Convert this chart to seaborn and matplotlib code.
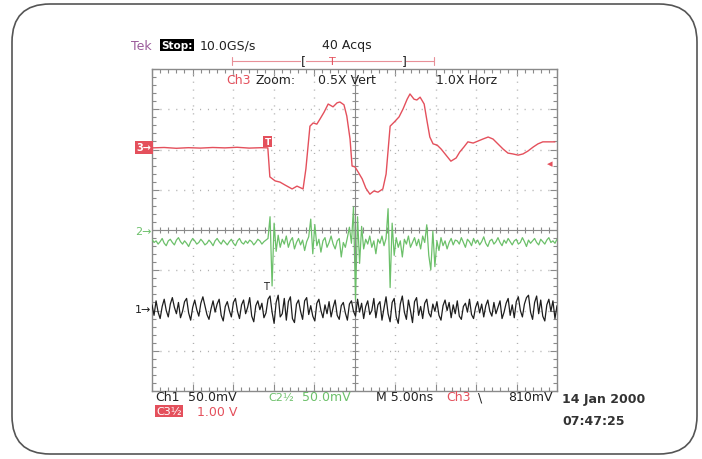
import numpy as np
import pandas as pd
import matplotlib.pyplot as plt
import seaborn as sns
from matplotlib.patches import FancyBboxPatch
from matplotlib.transforms import IdentityTransform
from matplotlib.ticker import MultipleLocator

sns.set_theme(style="white")
plt.rcParams["font.family"] = ["DejaVu Sans"]

# screen settings (M 5.00ns/div, 10 divisions, 8 vertical divisions)
NS_PER_DIV = 5.0
CH1_MV_PER_DIV = 50.0
CH2_MV_PER_DIV = 50.0
CH3_V_PER_DIV = 2.0   # 1.00 V/div shown at 0.5X vertical zoom
CH1_POS, CH2_POS, CH3_POS = 2.04, 3.97, 6.06   # ground markers, in divisions

# Ch3 (red) - time in ns, volts
ch3_t = [0, 1.5, 3, 4.5, 6, 7.5, 9, 10.5, 12, 13.5, 14.3,
         14.55, 15.2, 15.8, 16.4, 17.3, 17.9, 18.65, 19.0, 19.5, 19.9,
         20.35, 20.75, 21.25, 21.75, 22.35, 22.85, 23.2, 23.7, 24.05, 24.45,
         24.7, 25.05, 25.45, 25.95, 26.4, 26.9, 27.4, 27.9, 28.5, 28.9,
         29.4, 29.9, 30.5, 31.0, 31.5, 31.85, 32.35, 32.7, 33.1, 33.6,
         33.95, 34.3, 34.7, 35.2, 35.7, 36.3, 36.9, 37.55, 38.0, 38.5,
         39.0, 39.65, 40.25, 40.85, 41.5, 42.1, 42.7, 43.35, 43.95, 44.55,
         45.2, 45.8, 46.4, 47.05, 47.65, 48.25, 48.9, 49.75]
ch3_v = [-0.04, -0.02, -0.06, -0.03, -0.05, -0.02, -0.04, -0.01, -0.05, -0.03, -0.04,
         -1.48, -1.68, -1.74, -1.88, -2.08, -1.94, -2.08, -1.08, 1.04, 1.20,
         1.14, 1.40, 1.74, 2.14, 2.00, 2.20, 2.24, 2.10, 1.54, 0.40,
         -0.94, -0.98, -1.24, -1.58, -2.04, -2.34, -2.18, -2.24, -2.08, -1.34,
         1.04, 1.24, 1.50, 1.90, 2.38, 2.64, 2.38, 2.34, 2.48, 2.14,
         1.30, 0.50, 0.16, 0.10, -0.10, -0.40, -0.70, -0.54, -0.24, 0.0,
         0.26, 0.20, 0.30, 0.40, 0.50, 0.40, 0.16, -0.10, -0.30, -0.34,
         -0.40, -0.34, -0.20, 0.0, 0.16, 0.26, 0.26, 0.26]

# Ch2 (green) - mV, 200 samples across the screen
ch2_mv = [-10, -14, -12, -16, -13, -9, -15, -18, -12, -10,
          -14, -17, -11, -8, -13, -16, -12, -15, -19, -13,
          -9, -12, -16, -14, -10, -13, -17, -15, -11, -14,
          -18, -12, -9, -13, -16, -11, -14, -17, -13, -10,
          -15, -18, -12, -9, -14, -16, -12, -15, -11, -13,
          -17, -14, -10, -12, -16, -13, -11, -9,
          18, -68, 10, -25, -5, -20,
          -10, -16, -6, -20, -12, -8, -22, -14, -9, -17, -11, -24, -13, -7,
          15, -28, 8, -18, -10, -26, -12, -8, -20, -14,
          -6, -16, -22, -12, -9, -32, -14, -20, -8, 5,
          -15, 30, -85, 18, -40, 6, -22, -10, -16, -6,
          -20, -12, -28, -10, -15, -6, -18, -9, 28, -70,
          10, -30, -8, -20, -12, -32, -10, -16, -6, -20,
          -14, -8, -18, -10, -22, -6, -14, 8, -30, -48,
          0, -44, -12, -24, -8, -18, -12, -22, -14, -9,
          -17, -11,
          -12, -16, -8, -14, -20, -10, -13, -18, -9, -15,
          -11, -17, -13, -7, -15, -19, -12, -10, -16, -13,
          -8, -14, -18, -11, -15, -9, -13, -17, -12, -10,
          -16, -14, -8, -13, -19, -11, -15, -12, -9, -14,
          -17, -10, -13, -16, -11, -8, -14, -12, -15, -10]

# Ch1 (black) - mV, 200 samples across the screen
ch1_mv = [5, -8, 10, -4, -12, 3, 12, -2, -10, 6, 14, 2, -6, 8, -11, -3, 9, 13, -5, -14,
          2, 11, -1, -9, 7, 15, 4, -7, -13, 0, 10, -4, 6, 12, -8, -15, 3, 9, -2, -10,
          8, 13, -3, -12, 5, 11, -6, 2, 14, -9, -16, 4, 10, -1, 7, -11, -5, 12, 16, -4,
          -18, 8, 17, -10, -6, 13, -14, 9, 15, -12, -17, 6, 11, -3, -13, 10, 14, -7, 4, -9,
          -15, 7, 12, -2, -11, 5, -6, 9, -10, 2, 11, -8, -13, 4, 8, -5, -14, 6, 10, -3,
          -9, 12, -4, 7, -12, 3, 10, -7, -2, 13, -11, 5, 9, -14, 1, 15, -6, -16, 8, 13,
          -10, -18, 6, 16, -4, -13, 11, -2, -17, 9, 14, -8, 3, -12, 7, 12, -5, -10, 6, -3,
          9, -8, -14, 4, 11, -2, 8, -11, 5, -6, 10, -9, -13, 3, 7, -4, 12, -7, -12, 2,
          9, -5, 6, -10, 4, 11, -3, -9, 8, -6, 2, 10, -12, -4, 7, 13, -8, 5, -11, 9,
          15, -2, -10, 6, 14, 17, -4, -13, 8, 16, -6, 11, -9, -15, 5, 12, -3, 10, -12, 4]

t_fast = np.linspace(0, 10 * NS_PER_DIV, len(ch1_mv))

df3 = pd.DataFrame({"t": ch3_t, "y": CH3_POS + np.array(ch3_v) / CH3_V_PER_DIV})
df2 = pd.DataFrame({"t": t_fast, "y": CH2_POS + np.array(ch2_mv) / CH2_MV_PER_DIV})
df1 = pd.DataFrame({"t": t_fast, "y": CH1_POS + np.array(ch1_mv) / CH1_MV_PER_DIV})

RED = "#e4505c"
GREEN = "#6cc06a"
BLACK = "#1e1e1e"
GRID = "#b0b0b0"

fig = plt.figure(figsize=(7.02, 4.60), dpi=100)
W, H = 702, 460
def fx(px): return px / W
def fy(py): return 1 - py / H

# rounded outer frame
fig.patches.append(FancyBboxPatch((12, 5), 685, 450, boxstyle="round,pad=0,rounding_size=38",
                                  transform=IdentityTransform(), facecolor="none",
                                  edgecolor="#555555", linewidth=1.2, zorder=-1))

ax = fig.add_axes([fx(152), fy(392), fx(557) - fx(152), (392 - 70) / H])
ax.set_facecolor("white")
ax.set_xlim(0, 10 * NS_PER_DIV)
ax.set_ylim(0, 8)

# graticule
for i in range(1, 10):
    if i != 5:
        ax.axvline(i * NS_PER_DIV, color=GRID, lw=1.0, ls=(0, (0.8, 4.9)), zorder=1)
for j in range(1, 8):
    if j != 4:
        ax.axhline(j, color=GRID, lw=1.0, ls=(0, (0.8, 4.9)), zorder=1)
ax.axvline(5 * NS_PER_DIV, color="#8a8a8a", lw=0.8, zorder=1)
ax.axhline(4, color="#8a8a8a", lw=0.8, zorder=1)
ax.plot(np.arange(0, 50.1, 1), np.full(51, 4.0), ls="none", marker="|", ms=4, mew=0.8, color="#8a8a8a", zorder=1)
ax.plot(np.full(41, 25.0), np.arange(0, 8.01, 0.2), ls="none", marker="_", ms=4, mew=0.8, color="#8a8a8a", zorder=1)

ax.xaxis.set_major_locator(MultipleLocator(5))
ax.xaxis.set_minor_locator(MultipleLocator(1))
ax.yaxis.set_major_locator(MultipleLocator(1))
ax.yaxis.set_minor_locator(MultipleLocator(0.2))
ax.tick_params(which="both", direction="in", top=True, right=True, bottom=True, left=True,
               labelbottom=False, labelleft=False, color="#8a8a8a", width=0.8)
ax.tick_params(which="major", length=5)
ax.tick_params(which="minor", length=3)
for s in ax.spines.values():
    s.set_color("#8a8a8a")
    s.set_linewidth(1.0)

# traces
sns.lineplot(data=df3, x="t", y="y", ax=ax, color=RED, lw=1.0, estimator=None, zorder=3)
sns.lineplot(data=df2, x="t", y="y", ax=ax, color=GREEN, lw=0.9, estimator=None, zorder=3)
sns.lineplot(data=df1, x="t", y="y", ax=ax, color=BLACK, lw=0.9, estimator=None, zorder=4)
ax.set_xlabel("")
ax.set_ylabel("")

# channel markers
ytr = ax.get_yaxis_transform()
ax.text(-0.002, CH3_POS, "3\u2192", transform=ytr, ha="right", va="center", fontsize=7,
        color="white", fontweight="bold",
        bbox=dict(boxstyle="square,pad=0.15", fc=RED, ec="none"), clip_on=False)
ax.text(-0.002, CH2_POS, "2\u2192", transform=ytr, ha="right", va="center", fontsize=8,
        color=GREEN, clip_on=False)
ax.text(-0.002, CH1_POS, "1\u2192", transform=ytr, ha="right", va="center", fontsize=8,
        color=BLACK, clip_on=False)
ax.text(0.99, CH3_POS - 0.4, "\u25c2", transform=ytr, ha="right", va="center", fontsize=8,
        color=RED, zorder=5)
ax.text(14.3, 6.2, "T", ha="center", va="center", fontsize=6.5, color="white", fontweight="bold",
        bbox=dict(boxstyle="square,pad=0.15", fc=RED, ec="none"), zorder=5)
ax.text(14.1, 2.6, "T", ha="center", va="center", fontsize=7, color=BLACK, zorder=5)

# header
FS = 9
fig.text(fx(131), fy(46), "Tek", color="#9a5a9a", fontsize=FS, va="center")
fig.text(fx(161), fy(46), "Stop:", color="white", fontsize=FS - 1.5, va="center", fontweight="bold",
         bbox=dict(boxstyle="square,pad=0.12", fc="black", ec="none"))
fig.text(fx(200), fy(46), "10.0GS/s", color="#222222", fontsize=FS, va="center")
fig.text(fx(322), fy(46), "40 Acqs", color="#222222", fontsize=FS, va="center")
fig.add_artist(plt.Line2D([fx(232), fx(434)], [fy(62), fy(62)], color="#e89098", lw=0.8))
fig.add_artist(plt.Line2D([fx(232), fx(232)], [fy(58), fy(66)], color="#e89098", lw=0.8))
fig.add_artist(plt.Line2D([fx(434), fx(434)], [fy(58), fy(66)], color="#e89098", lw=0.8))
fig.text(fx(303), fy(62), "[", color="#222222", fontsize=FS, va="center", ha="center",
         bbox=dict(boxstyle="square,pad=0", fc="white", ec="none"))
fig.text(fx(332), fy(62), "T", color=RED, fontsize=FS - 1, va="center", ha="center")
fig.text(fx(404), fy(62), "]", color="#222222", fontsize=FS, va="center", ha="center",
         bbox=dict(boxstyle="square,pad=0", fc="white", ec="none"))

fig.text(fx(226), fy(81), "Ch3", color=RED, fontsize=FS, va="center")
fig.text(fx(256), fy(81), "Zoom:", color="#222222", fontsize=FS, va="center")
fig.text(fx(318), fy(81), "0.5X Vert", color="#222222", fontsize=FS, va="center")
fig.text(fx(436), fy(81), "1.0X Horz", color="#222222", fontsize=FS, va="center")

# footer
fig.text(fx(155), fy(398), "Ch1", color="#222222", fontsize=FS, va="center")
fig.text(fx(188), fy(398), "50.0mV", color="#222222", fontsize=FS, va="center")
fig.text(fx(268), fy(398), "C2\u00bd", color=GREEN, fontsize=FS - 1, va="center")
fig.text(fx(302), fy(398), "50.0mV", color=GREEN, fontsize=FS, va="center")
fig.text(fx(376), fy(398), "M 5.00ns", color="#222222", fontsize=FS, va="center")
fig.text(fx(446), fy(398), "Ch3", color=RED, fontsize=FS, va="center")
fig.text(fx(478), fy(398), "\\", color="#222222", fontsize=FS, va="center")
fig.text(fx(508), fy(398), "810mV", color="#222222", fontsize=FS, va="center")
fig.text(fx(156), fy(412), "C3\u00bd", color="white", fontsize=FS - 1, va="center",
         bbox=dict(boxstyle="square,pad=0.1", fc=RED, ec="none"))
fig.text(fx(197), fy(412), "1.00 V", color=RED, fontsize=FS, va="center")
fig.text(fx(562), fy(400), "14 Jan 2000", color="#333333", fontsize=FS, va="center", fontweight="bold")
fig.text(fx(562), fy(422), "07:47:25", color="#333333", fontsize=FS, va="center", fontweight="bold")

fig.savefig("out.png", dpi=100)
